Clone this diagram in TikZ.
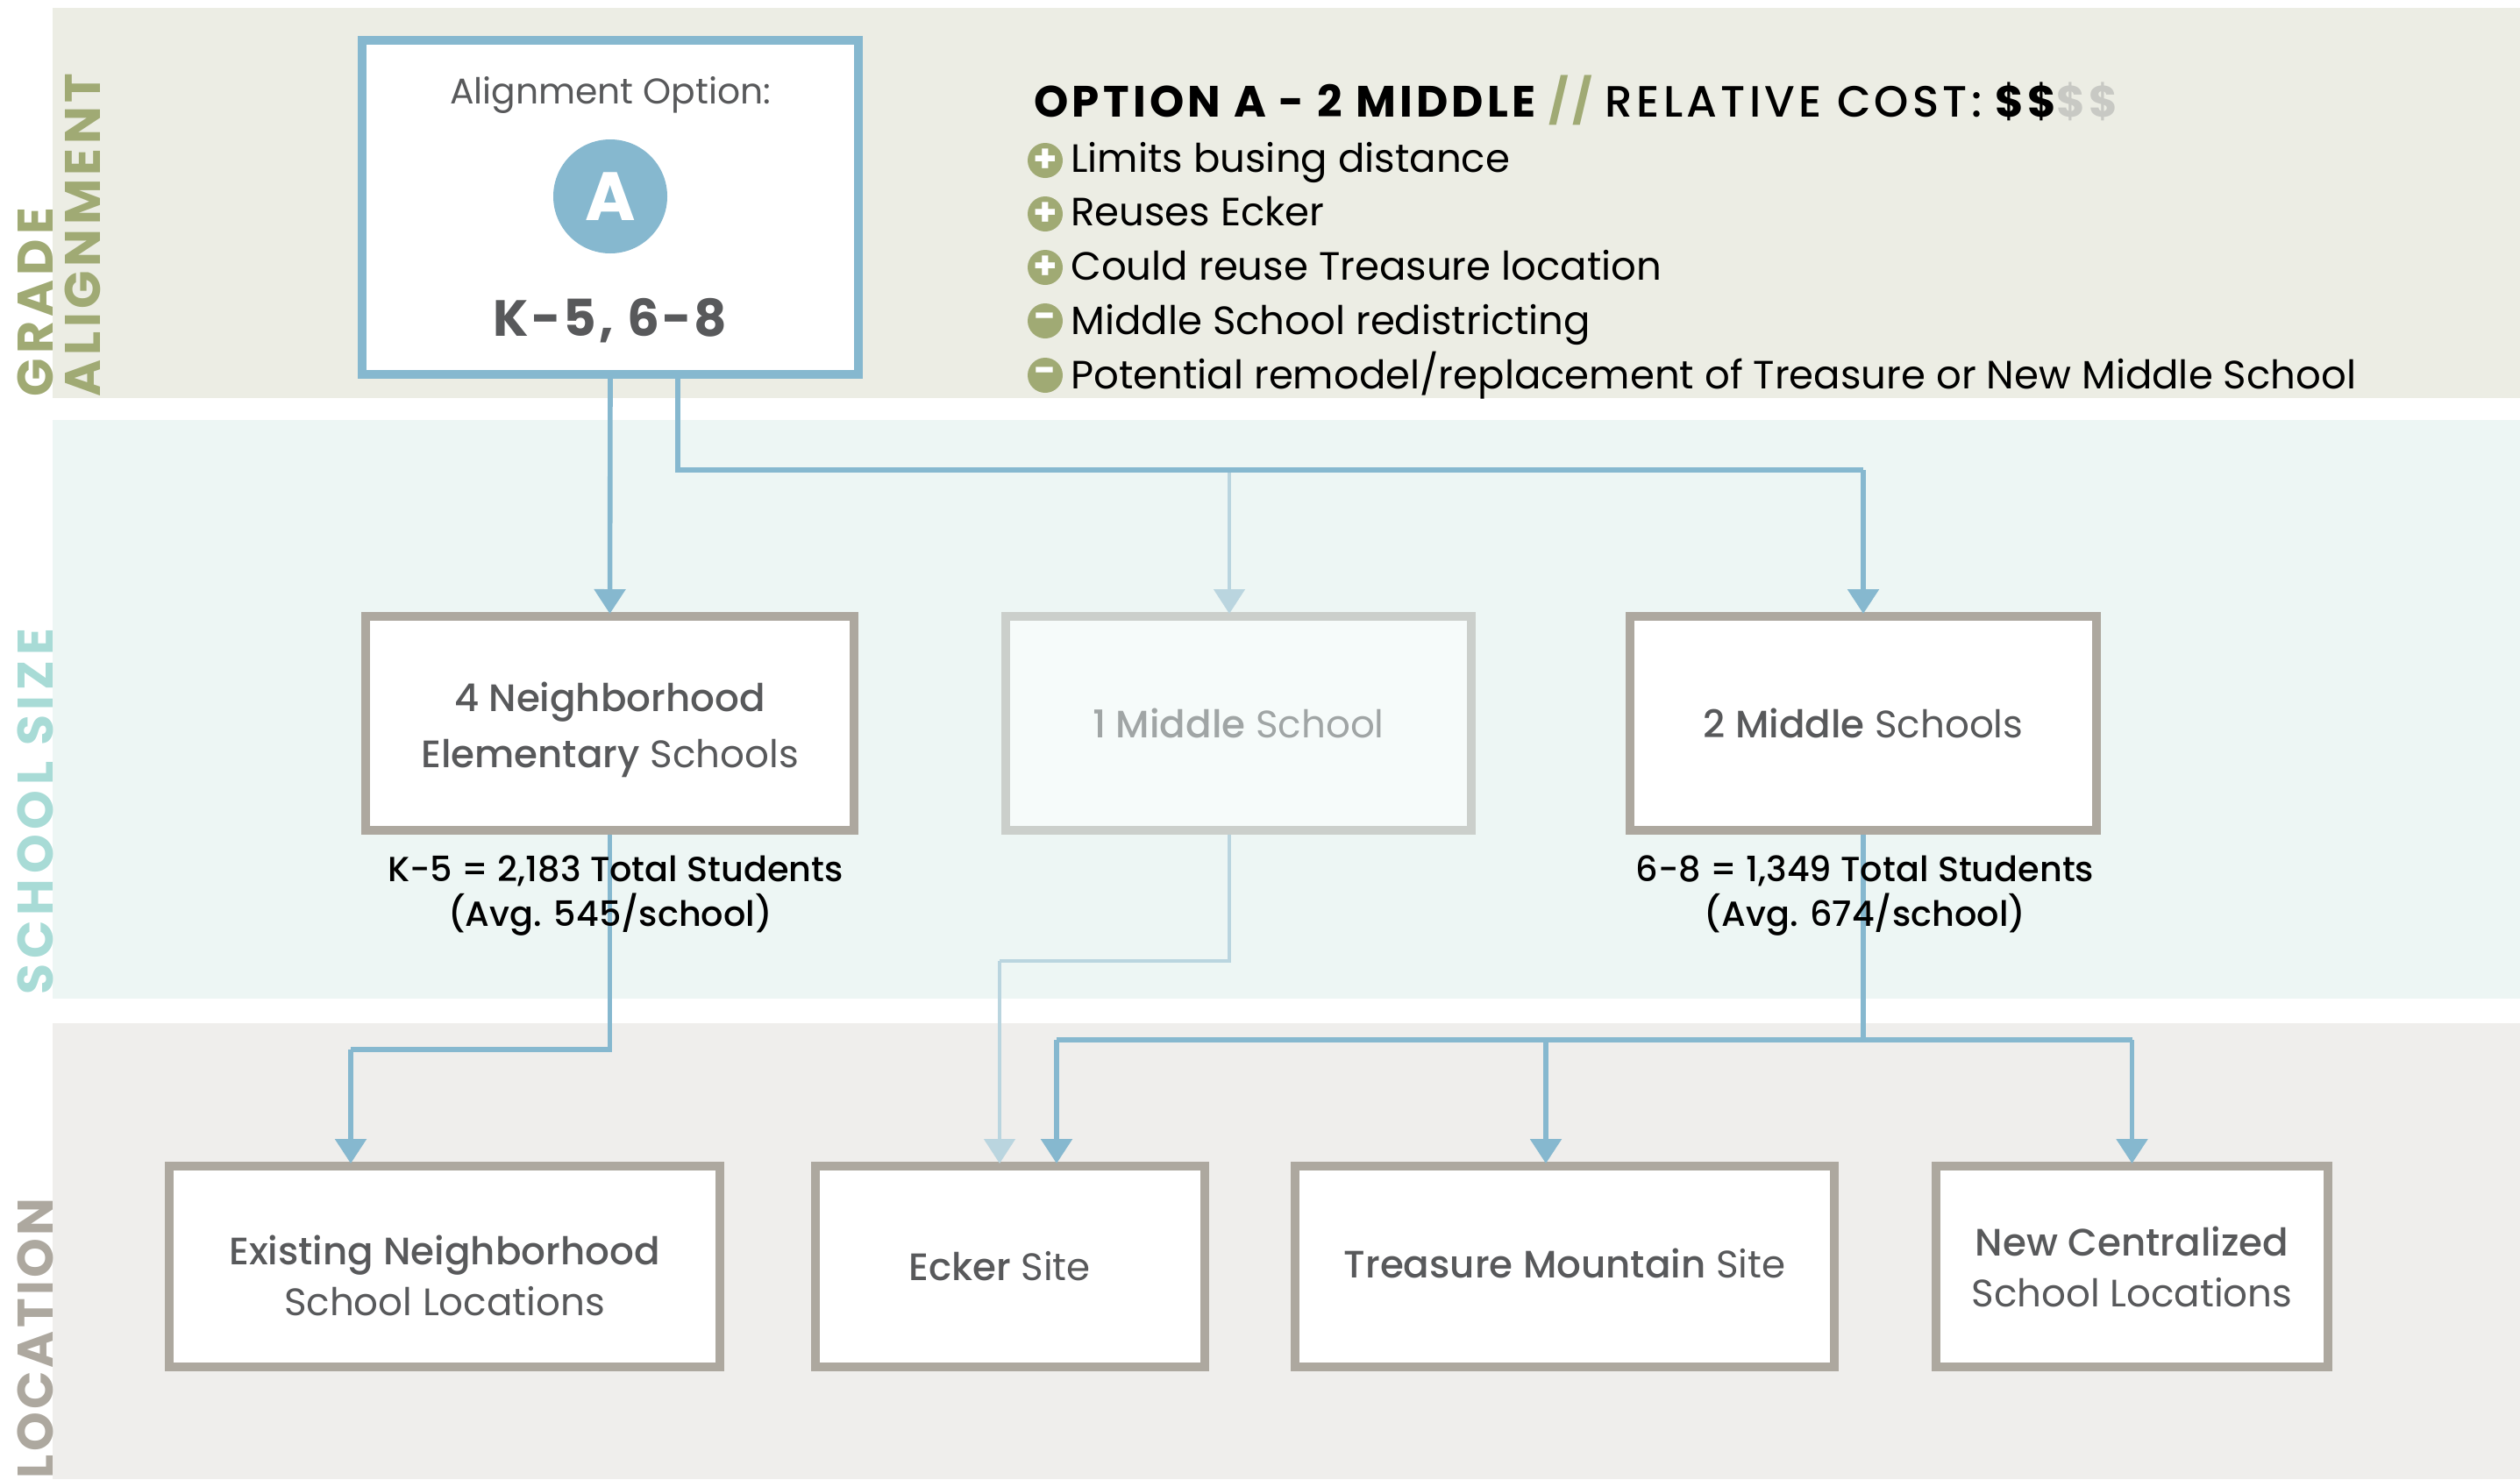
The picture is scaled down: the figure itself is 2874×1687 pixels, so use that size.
\documentclass[tikz,border=0pt]{standalone}
\usepackage{fontspec}
\setmainfont{Poppins}
\newfontfamily\medf{Poppins Medium}
\usetikzlibrary{arrows.meta,calc}
\definecolor{bandA}{HTML}{ECEDE4}
\definecolor{bandB}{HTML}{EDF6F4}
\definecolor{bandC}{HTML}{EFEEEC}
\definecolor{blueC}{HTML}{86B8CF}
\definecolor{blueL}{HTML}{BAD5DF}
\definecolor{stone}{HTML}{ADA89F}
\definecolor{stoneL}{HTML}{CBCFCB}
\definecolor{ink}{HTML}{58595B}
\definecolor{inkL}{HTML}{A0A5A5}
\definecolor{olive}{HTML}{A0AA74}
\definecolor{teal}{HTML}{A8DBD6}
\definecolor{dollar}{HTML}{C8C9C4}
\definecolor{paleF}{HTML}{F6FBFA}
\newcommand{\fs}[2]{\fontsize{#1}{#2}\selectfont}
\tikzset{
  x=0.5pt,y=-0.5pt,
  sidelabel/.style={rotate=90,anchor=base west,inner sep=0,outer sep=0,font=\fs{28.5}{30}\bfseries\addfontfeatures{LetterSpace=#1}},
  boxg/.style={draw=stone,fill=white,line width=5pt,align=center,inner sep=0,text=ink,font=\fs{21.8}{32}},
  boxlow/.style={boxg,font=\fs{21.8}{29}},
  boxb/.style={draw=blueC,fill=white,line width=5pt,inner sep=0},
  boxl/.style={boxg,draw=stoneL,fill=paleF,text=inkL},
  conn/.style={draw=blueC,line width=2.8pt,-{Triangle[width=17.5pt,length=14pt]},shorten >=-1pt},
  connp/.style={draw=blueC,line width=2.8pt},
  connl/.style={draw=blueL,line width=2.4pt,-{Triangle[width=17.5pt,length=14pt]},shorten >=-1pt},
  connlp/.style={draw=blueL,line width=2.4pt},
  item/.style={anchor=base west,inner sep=0,font=\fs{22.5}{24},text=black},
  dot/.style={circle,fill=olive,draw=none,minimum size=20pt,inner sep=0,text=white,font=\fs{22}{22}\bfseries},
  stat/.style={align=center,inner sep=0,anchor=base,text=black,font=\medf\fs{19.9}{25}},
  plain/.style={inner sep=0,anchor=base}
}
\begin{document}
\begin{tikzpicture}
\useasboundingbox (0,0) rectangle (2874,1687);
\fill[bandA] (60,9) rectangle (2874,454);
\fill[bandB] (60,479) rectangle (2874,1139);
\fill[bandC] (60,1167) rectangle (2874,1687);
\node[sidelabel=9,text=olive] (sg) at (60,452) {GRADE};
\node[sidelabel=8,text=olive] (sa) at (114,452) {ALIGNMENT};
\node[sidelabel=10,text=teal] (ss) at (61,1134) {SCHOOL SIZE};
\node[sidelabel=6,text=stone] (sl) at (60,1686) {LOCATION};
% option box
\node[boxb,minimum width=283pt,minimum height=190.5pt] (optA) at (696,236.5) {};
\node[plain,text=ink,font=\fs{20.4}{24}] (opttitle) at (696,118) {Alignment Option:};
\node[circle,fill=blueC,minimum size=65pt,inner sep=0,text=white,font=\fs{39}{39}\bfseries] (circA) at (696,224) {A};
\node[plain,text=ink,font=\fs{29}{30}\bfseries\addfontfeatures{LetterSpace=5}] (optgr) at (696,383) {K-5, 6-8};
% heading
\node[item,font=\fs{25}{28}\bfseries\addfontfeatures{LetterSpace=8.5}] (head) at (1179,133) {OPTION A - 2 MIDDLE \textcolor{olive}{//} {\mdseries\medf\addfontfeatures{LetterSpace=8.5}RELATIVE COST:} \$\$\textcolor{dollar}{\$\$}};
\node[dot] (d1) at (1192,183) {+}; \node[item] (t1) at (1221,196) {Limits busing distance};
\node[dot] (d2) at (1192,244) {+}; \node[item] (t2) at (1221,257) {Reuses Ecker};
\node[dot] (d3) at (1192,305) {+}; \node[item] (t3) at (1221,319) {Could reuse Treasure location};
\node[dot] (d4) at (1192,366) {-}; \node[item] (t4) at (1221,381) {Middle School redistricting};
\node[dot] (d5) at (1192,428) {-}; \node[item] (t5) at (1221,443) {Potential remodel/replacement of Treasure or New Middle School};
% middle row
\node[boxg,minimum width=278.5pt,minimum height=122pt] (n4) at (695.5,825) {\rule{0pt}{24pt}{\medf 4 Neighborhood}\\{\medf Elementary} Schools};
\node[boxl,minimum width=265.5pt,minimum height=122pt] (m1) at (1412.5,825) {{\medf 1 Middle} School};
\node[boxg,minimum width=266pt,minimum height=122pt] (m2) at (2125,825) {{\medf 2 Middle} Schools};
% bottom row
\node[boxlow,minimum width=314pt,minimum height=114.5pt] (b1) at (507,1444.5) {\rule{0pt}{27pt}{\medf Existing Neighborhood}\\School Locations};
\node[boxlow,minimum width=222pt,minimum height=114.5pt] (b2) at (1152,1444.5) {{\medf Ecker} Site\hspace*{12pt}};
\node[boxlow,minimum width=307.5pt,minimum height=114.5pt] (b3) at (1784.5,1444.5) {\raisebox{4pt}{{\medf Treasure Mountain} Site}};
\node[boxlow,minimum width=223.5pt,minimum height=114.5pt] (b4) at (2431.5,1444.5) {{\medf New Centralized}\\School Locations};
% connector way-points
\coordinate (j1) at (773,536);
\coordinate (jl) at (1402,536);
\coordinate (e1) at (400,1197);
\coordinate (l1) at (1402,1096);
\coordinate (l2) at (1140,1096);
\coordinate (e2) at (1205,1186);
\coordinate (e3) at (1763,1186);
% connectors
\draw[connl] (jl) -- (jl |- m1.north);
\draw[connlp] (l1 |- m1.south) -- (l1) -- (l2);
\draw[connl] (l2) -- (l2 |- b2.north);
\draw[conn] (optA.south) -- (n4.north);
\draw[connp] (j1 |- optA.south) -- (j1) -- (j1 -| m2.north);
\draw[conn] (j1 -| m2.north) -- (m2.north);
\draw[connp] (n4.south) -- (n4.south |- e1) -- (e1);
\draw[conn] (e1) -- (e1 |- b1.north);
\draw[connp] (m2.south) -- (m2.south |- e2);
\draw[connp] (e2) -- (e2 -| b4.north);
\draw[conn] (e2) -- (e2 |- b2.north);
\draw[conn] (e3) -- (e3 |- b3.north);
\draw[conn] (e2 -| b4.north) -- (b4.north);
% stats
\node[stat] (st1) at (702,1005) {K-5 = 2,183 Total Students};
\node[stat] (st1b) at (696,1056) {(Avg. 545/school)};
\node[stat] (st2) at (2127,1005) {6-8 = 1,349 Total Students};
\node[stat] (st2b) at (2127,1056) {(Avg. 674/school)};
\end{tikzpicture}
\end{document}
